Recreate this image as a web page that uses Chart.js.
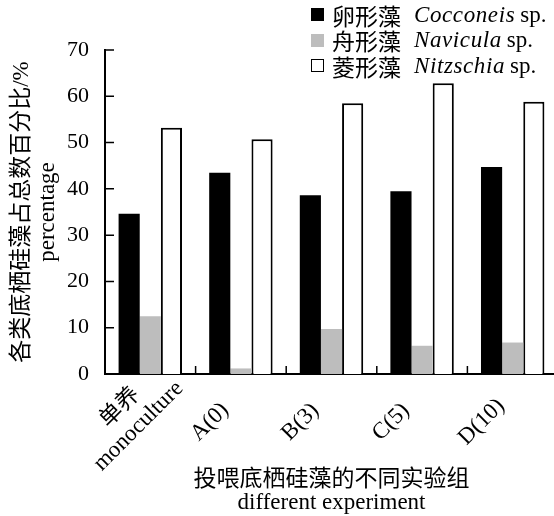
<!DOCTYPE html>
<html>
<head>
<meta charset="utf-8">
<script src="https://cdn.jsdelivr.net/npm/chart.js@4.4.0/dist/chart.umd.min.js"></script>
<style>
  html, body { margin: 0; padding: 0; background: #fff; overflow: hidden; }
  #wrap { position: relative; width: 560px; height: 516px; }
  #legend { position: absolute; left: 311px; top: 2px; font: 23px "Liberation Serif", "Noto Sans CJK SC", serif; color: #000; }
  #legend .row { display: flex; align-items: center; height: 25.5px; white-space: pre; }
  #legend .box { display: inline-block; width: 13px; height: 13px; box-sizing: border-box; margin-right: 8px; }
  #legend i { letter-spacing: 0.6px; margin-left: 13px; margin-right: 5px; }
</style>
</head>
<body>
<div id="wrap">
  <canvas id="chart" width="560" height="516"></canvas>
  <div id="legend"></div>
</div>
<script>
// data
const categories = [['单养', 'monoculture'], 'A(0)', 'B(3)', 'C(5)', 'D(10)'];
const seriesCn = ['卵形藻', '舟形藻', '菱形藻'];
const seriesLatin = ['Cocconeis', 'Navicula', 'Nitzschia'];
const cocconeis = [34.6, 43.5, 38.6, 39.5, 44.7];
const navicula = [12.5, 1.2, 9.7, 6.1, 6.8];
const nitzschia = [53.2, 50.7, 58.5, 62.8, 58.8];

const FONT = '"Liberation Serif", "Noto Sans CJK SC", serif';
const fills = ['#000000', '#bdbdbd', '#ffffff'];

// legend (html so the genus name can be italic)
const legend = document.getElementById('legend');
seriesCn.forEach((cn, i) => {
  const row = document.createElement('div');
  row.className = 'row';
  const box = document.createElement('span');
  box.className = 'box';
  box.style.background = fills[i];
  if (i === 2) box.style.border = '1.5px solid #000';
  row.appendChild(box);
  row.appendChild(document.createTextNode(cn));
  const it = document.createElement('i');
  it.textContent = seriesLatin[i];
  row.appendChild(it);
  row.appendChild(document.createTextNode('sp.'));
  legend.appendChild(row);
});

// short inward tick marks + rotated category labels
const axisDecor = {
  id: 'axisDecor',
  afterDraw(chart) {
    const { ctx, chartArea, scales: { x, y } } = chart;
    ctx.save();
    ctx.strokeStyle = '#000';
    ctx.lineWidth = 1.5;
    ctx.beginPath();
    y.ticks.forEach(t => {
      const py = y.getPixelForValue(t.value);
      ctx.moveTo(chartArea.left, py);
      ctx.lineTo(chartArea.left + 9, py);
    });
    for (let i = 1; i < categories.length; i++) {
      const px = (x.getPixelForValue(i - 1) + x.getPixelForValue(i)) / 2;
      ctx.moveTo(px, chartArea.bottom);
      ctx.lineTo(px, chartArea.bottom - 8);
    }
    ctx.stroke();

    ctx.fillStyle = '#000';
    ctx.font = '23px ' + FONT;
    ctx.textAlign = 'center';
    ctx.textBaseline = 'middle';
    categories.forEach((lab, i) => {
      const lines = Array.isArray(lab) ? lab : [lab];
      const extra = lines.length - 1;
      ctx.save();
      ctx.translate(x.getPixelForValue(i) - 31 + 10 * extra, chartArea.bottom + 48 - 5 * extra);
      ctx.rotate(-Math.PI / 4);
      lines.forEach((line, j) => ctx.fillText(line, 0, (j - extra / 2) * 26));
      ctx.restore();
    });
    ctx.restore();
  }
};

new Chart(document.getElementById('chart'), {
  type: 'bar',
  data: {
    labels: categories,
    datasets: [
      { label: seriesCn[0], data: cocconeis, backgroundColor: fills[0], borderWidth: 0 },
      { label: seriesCn[1], data: navicula, backgroundColor: fills[1], borderWidth: 0 },
      { label: seriesCn[2], data: nitzschia, backgroundColor: fills[2], borderColor: '#000', borderWidth: 2 }
    ]
  },
  options: {
    responsive: false,
    animation: false,
    categoryPercentage: 0.7,
    barPercentage: 1.0,
    layout: { padding: { top: 50, right: 2, bottom: 0, left: 0 } },
    plugins: { legend: { display: false }, tooltip: { enabled: false } },
    scales: {
      x: {
        grid: { display: false },
        border: { display: true, color: '#000', width: 2 },
        ticks: { display: false },
        title: {
          display: true,
          text: ['投喂底栖硅藻的不同实验组', 'different experiment'],
          color: '#000',
          font: { family: FONT, size: 23, lineHeight: 1.03 },
          padding: { top: 0, bottom: 1 }
        },
        afterFit(scale) { scale.height = 142; }
      },
      y: {
        min: 0,
        max: 70,
        grid: { display: false },
        border: { display: true, color: '#000', width: 2 },
        ticks: { stepSize: 10, color: '#000', font: { family: FONT, size: 22 }, padding: 8 },
        title: {
          display: true,
          text: ['各类底栖硅藻占总数百分比/%', 'percentage'],
          color: '#000',
          font: { family: FONT, size: 23, lineHeight: 1.12 },
          padding: { top: 9, bottom: 0 }
        },
        afterFit(scale) { scale.width = 105; }
      }
    }
  },
  plugins: [axisDecor]
});
</script>
</body>
</html>
